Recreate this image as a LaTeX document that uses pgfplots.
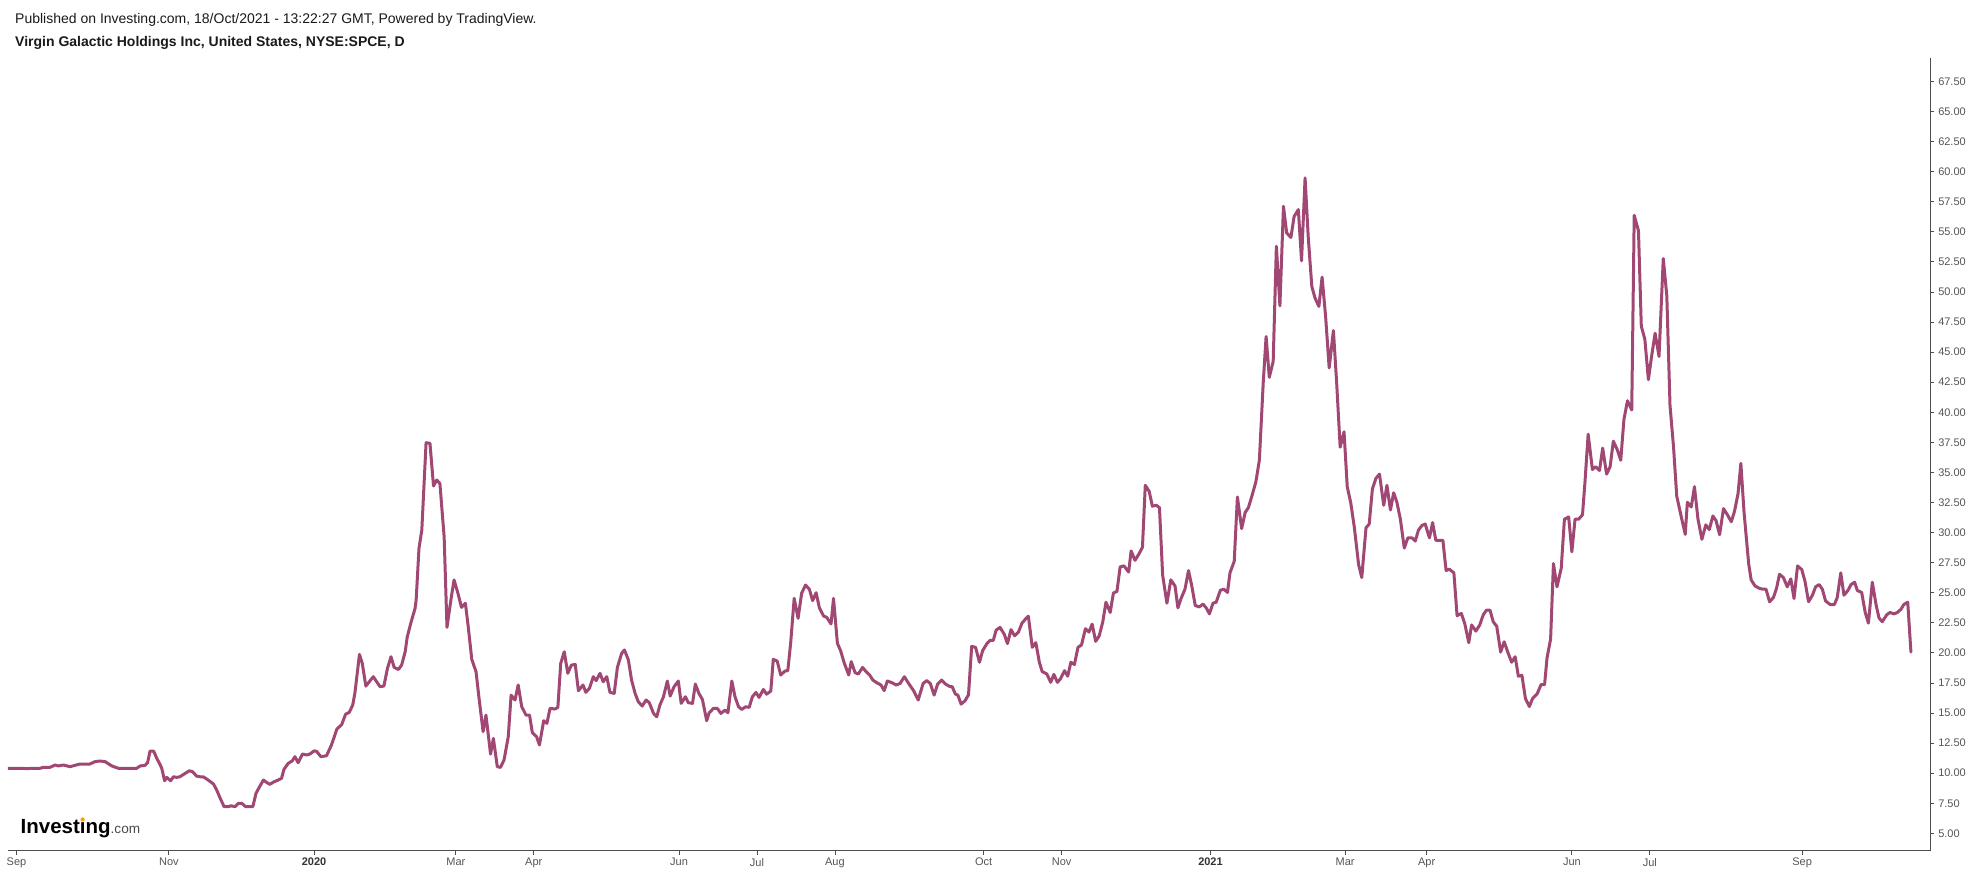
\documentclass[border=0pt]{standalone}
\usepackage{fontspec}
\setmainfont{Liberation Sans}
\usepackage{pgfplots}
\pgfplotsset{compat=1.18}
\definecolor{spce}{HTML}{A04873}
\definecolor{axisgray}{HTML}{4D4D4D}
\definecolor{labelgray}{HTML}{555555}
\definecolor{yeargray}{HTML}{333333}
\definecolor{titleblack}{HTML}{1A1A1A}
\definecolor{comgray}{HTML}{4A4A4A}
\definecolor{logoorange}{HTML}{F7A600}
\begin{document}
\begin{tikzpicture}
\fill[white] (0,0) rectangle (1976bp,875bp);
\path[use as bounding box] (0,0) rectangle (1976bp,875bp);
\node[anchor=base west, inner sep=0pt, text=titleblack] at (15bp,851bp) {\fontsize{14bp}{16bp}\selectfont Published on Investing.com, 18/Oct/2021 - 13:22:27 GMT, Powered by TradingView.};
\node[anchor=base west, inner sep=0pt, text=titleblack] at (15bp,828bp) {\fontsize{14bp}{16bp}\selectfont\bfseries Virgin Galactic Holdings Inc, United States, NYSE:SPCE, D};
\node[anchor=base west, inner sep=0pt] at (20.5bp,41bp) {{\fontsize{20.5bp}{20bp}\selectfont\bfseries Investing}{\fontsize{13.6bp}{14bp}\selectfont\color{comgray}.com}};
\fill[logoorange] (82.6bp,55.5bp) circle (2.2bp);
\begin{axis}[
  at={(8bp,24bp)}, anchor=south west,
  scale only axis, width=1922bp, height=793bp,
  xmin=-2.4, xmax=540.1, ymin=3.53, ymax=69.45,
  axis x line=bottom, axis y line=right,
  axis line style={-, draw=axisgray, line width=1bp},
  tick align=outside, major tick length=4bp,
  tick style={draw=axisgray, line width=0.8bp},
  xtick={0,43,84,124,146,187,209,231,273,295,337,375,398,439,461,504},
  xticklabels={Sep,Nov,\textcolor{yeargray}{\textbf{2020}},Mar,Apr,Jun,Jul,Aug,Oct,Nov,\textcolor{yeargray}{\textbf{2021}},Mar,Apr,Jun,Jul,Sep},
  ytick={5,7.5,10,12.5,15,17.5,20,22.5,25,27.5,30,32.5,35,37.5,40,42.5,45,47.5,50,52.5,55,57.5,60,62.5,65,67.5},
  /pgf/number format/fixed, /pgf/number format/fixed zerofill,
  /pgf/number format/precision=2, /pgf/number format/assume math mode=true,
  xticklabel style={font=\fontsize{11bp}{13bp}\selectfont, text=labelgray, inner sep=0pt, anchor=north, yshift=-3bp},
  yticklabel style={font=\fontsize{11bp}{13bp}\selectfont, text=labelgray, inner sep=0pt, anchor=west, xshift=4bp},
]
\addplot[spce, line width=3bp, line join=round, line cap=round] coordinates {
(-2.3,10.40) (1.9,10.40) (2.9,10.37) (3.8,10.40) (6.6,10.40) (7.6,10.49) (9.5,10.49) (10.9,10.68) (11.8,10.60) (13.2,10.68) (15.1,10.54) (17.9,10.76) (20.7,10.76) (22.2,10.96) (23.6,11.01) (25.0,10.96) (26.9,10.60) (28.8,10.40) (33.9,10.40) (34.9,10.60) (36.3,10.65) (37.0,10.88) (37.7,11.84) (38.7,11.84) (39.6,11.23) (40.5,10.73) (41.0,10.40) (41.8,9.37) (42.4,9.65) (43.5,9.37) (44.3,9.70) (45.2,9.65) (46.1,9.70) (47.6,9.98) (48.8,10.20) (49.7,10.12) (50.8,9.76) (51.8,9.70) (52.7,9.70) (54.1,9.43) (55.6,9.10) (56.5,8.60) (57.5,7.91) (58.6,7.21) (59.8,7.21) (60.5,7.29) (61.7,7.21) (62.6,7.49) (63.6,7.49) (64.7,7.21) (66.7,7.21) (67.6,8.32) (68.5,8.82) (69.7,9.43) (70.6,9.23) (71.5,9.07) (72.7,9.29) (73.9,9.43) (74.8,9.57) (75.5,10.32) (76.7,10.82) (77.8,11.01) (78.6,11.37) (79.5,10.87)
(80.7,11.59) (81.9,11.51) (82.8,11.59) (84.0,11.85) (84.7,11.82) (85.9,11.37) (87.5,11.45) (88.9,12.34) (90.4,13.65) (91.8,14.05) (92.9,14.91) (93.9,15.05) (94.9,15.66) (95.5,16.63) (96.8,19.87) (97.6,19.12) (98.6,17.24) (100.7,18.02) (102.6,17.19) (103.7,17.24) (104.7,18.71) (105.7,19.68) (106.6,18.79) (107.8,18.62) (108.7,18.98) (109.7,20.09) (110.3,21.34) (111.4,22.59) (112.5,23.70) (112.8,24.39) (113.6,28.69) (114.4,30.21) (115.6,37.47) (116.7,37.42) (117.7,33.87) (118.6,34.37) (119.5,34.09) (120.7,29.66) (121.5,22.12) (122.6,24.39) (123.5,26.06) (124.6,24.95) (125.6,23.78) (126.7,24.12) (127.5,22.18) (128.5,19.46) (129.7,18.44) (130.5,16.36) (131.7,13.45) (132.5,14.83) (133.8,11.59) (134.6,12.89) (135.7,10.54) (136.6,10.48) (137.6,11.09) (138.8,13.03) (139.6,16.49) (140.7,16.08) (141.6,17.33) (142.6,15.53) (143.8,14.83) (144.8,14.83) (145.6,13.36) (146.8,13.03) (147.6,12.34) (148.8,14.36) (149.7,14.14) (150.6,15.39) (152.0,15.33) (152.8,15.47) (153.6,19.12) (154.6,20.09) (155.6,18.30) (156.6,18.98) (157.7,19.04) (158.6,16.85) (159.9,17.33) (160.7,16.72) (161.7,17.05) (162.8,18.02) (163.6,17.69) (164.7,18.30) (165.6,17.60) (166.6,18.02) (167.5,16.72) (168.7,16.63) (169.6,18.79) (170.8,19.96)
(171.6,20.24) (172.7,19.41) (173.6,17.74) (174.6,16.63) (175.5,15.94) (176.6,15.58) (177.7,16.08) (178.6,15.86) (179.8,14.97) (180.7,14.69) (181.6,15.66) (182.6,16.35) (183.7,17.66) (184.5,16.41) (185.6,17.19) (186.8,17.66) (187.6,15.80) (188.8,16.35) (189.6,15.86) (190.8,15.80) (191.6,17.41) (192.6,16.63) (193.6,16.13) (194.8,14.36) (195.5,15.02) (196.7,15.38) (197.8,15.38) (198.8,14.97) (200.0,15.24) (200.8,15.02) (201.9,17.66) (202.8,16.35) (203.8,15.52) (204.7,15.30) (205.8,15.52) (206.8,15.47) (207.7,16.35) (208.7,16.71) (209.6,16.30) (210.8,16.96) (211.7,16.57) (212.9,16.82) (213.6,19.46) (214.7,19.32) (215.7,18.16) (216.9,18.49) (217.7,18.52) (218.5,20.79) (219.5,24.53) (220.6,22.87) (221.6,24.95) (222.7,25.64) (223.8,25.28) (224.7,24.34) (225.7,25.00) (226.6,23.76) (227.8,23.06) (228.7,22.95) (229.9,22.40) (230.6,24.53) (231.7,20.79) (232.6,20.18) (233.6,19.18) (234.9,18.16) (235.6,19.27) (236.7,18.35) (237.6,18.24) (238.8,18.79) (239.8,18.44) (240.8,18.16) (241.7,17.74) (242.8,17.52) (244.0,17.33) (244.9,16.86) (245.8,17.66) (247.1,17.52) (248.3,17.33) (249.4,17.46) (250.6,18.02) (251.8,17.46) (253.2,16.86) (254.5,16.08) (255.9,17.46) (256.9,17.69) (257.9,17.46) (259.0,16.49) (260.0,17.41) (261.1,17.74) (262.2,17.41) (263.5,17.19) (264.1,17.19) (265.0,16.57) (265.7,16.49)
(266.6,15.74) (267.7,16.01) (268.7,16.51) (269.6,20.54) (270.7,20.46) (271.8,19.22) (272.7,20.19) (273.9,20.77) (274.8,21.04) (275.7,21.04) (276.5,21.89) (277.6,22.12) (278.8,21.54) (279.7,20.77) (280.7,21.93) (281.7,21.42) (282.8,21.73) (283.8,22.47) (284.7,22.78) (285.6,23.05) (286.7,20.46) (287.7,20.85) (288.7,19.22) (289.5,18.44) (290.8,18.25) (291.9,17.55) (292.8,18.21) (293.8,17.55) (294.7,17.86) (295.8,18.52) (296.7,18.06) (297.6,19.22) (298.6,19.03) (299.6,20.46) (300.6,20.66) (301.7,22.01) (302.7,21.73) (303.6,22.39) (304.6,20.96) (305.6,21.42) (306.6,22.58) (307.5,24.21) (308.7,23.36) (309.6,24.98) (310.6,25.10) (311.5,27.15) (312.6,27.23) (313.9,26.72) (314.6,28.47) (315.7,27.69) (316.9,28.27) (317.8,28.78) (318.6,33.93) (319.7,33.43) (320.6,32.19) (321.7,32.27) (322.6,32.07) (323.5,26.46) (324.7,24.13) (325.8,26.07) (327.0,25.56) (327.8,23.74) (328.7,24.52) (329.8,25.29) (330.8,26.84) (331.7,25.60) (332.7,23.94) (333.8,23.82) (334.9,24.05) (335.8,23.74) (336.7,23.24) (337.7,24.13) (338.6,24.21) (339.8,25.21) (340.8,25.29) (341.8,25.02) (342.5,26.65) (343.7,27.61) (344.6,32.96) (345.8,30.33) (346.8,31.68) (347.7,32.07) (348.8,33.15) (349.8,34.20) (350.8,36.02)
(351.9,42.52) (352.7,46.30) (353.6,42.90) (354.7,44.23) (355.6,53.80) (356.6,48.85) (357.6,57.12) (358.5,54.91) (359.7,54.53) (360.6,56.27) (361.8,56.85) (362.7,52.59) (363.7,59.48) (364.6,54.53) (365.6,50.46) (366.5,49.50) (367.6,48.80) (368.5,51.24) (369.5,47.95) (370.5,43.69) (371.7,46.79) (372.6,42.52) (373.6,37.10) (374.7,38.38) (375.6,33.81) (376.6,32.46) (377.6,30.44) (378.8,27.35) (379.7,26.26) (380.9,30.40) (381.8,30.71) (382.7,33.62) (383.7,34.51) (384.7,34.86) (385.9,32.27) (386.8,33.93) (387.8,31.88) (388.7,33.31) (389.6,32.54) (390.6,31.11) (391.7,28.71) (392.7,29.56) (393.9,29.56) (394.8,29.29) (395.7,30.21) (396.7,30.59) (397.6,30.71) (398.8,29.56) (399.7,30.83) (400.6,29.36) (401.6,29.36) (402.6,29.36) (403.5,26.84) (404.4,26.96) (405.7,26.65) (406.6,23.09) (407.8,23.28) (408.8,22.39) (409.9,20.85) (410.7,22.32) (411.9,21.81) (413.0,22.32) (414.0,23.17) (414.9,23.55) (415.9,23.55) (416.8,22.59) (417.8,22.20) (418.9,20.07) (419.9,20.92) (421.0,19.99) (422.0,19.22) (423.0,19.68) (423.9,18.06) (424.9,18.13) (425.9,16.20) (427.0,15.54) (427.9,16.20) (429.2,16.59) (430.3,17.36) (431.3,17.36) (432.0,19.60) (433.0,21.15) (433.8,27.42) (434.8,25.49) (436.0,27.04) (436.9,31.11) (438.1,31.30) (439.0,28.40) (439.9,31.11) (440.9,31.11)
(442.0,31.48) (442.7,34.19) (443.6,38.18) (444.8,35.24) (445.7,35.47) (446.8,35.16) (447.7,37.02) (448.8,34.86) (449.8,35.47) (450.7,37.60) (451.8,36.90) (452.8,36.01) (453.7,39.41) (454.7,40.96) (455.9,40.19) (456.6,56.37) (457.8,55.09) (458.6,47.15) (459.6,46.07) (460.6,42.71) (461.5,44.64) (462.5,46.57) (463.6,44.64) (464.8,52.78) (465.8,49.68) (466.7,40.58) (467.7,37.10) (468.6,33.03) (469.9,31.28) (471.0,29.85) (471.6,32.52) (472.7,32.13) (473.6,33.81) (474.6,31.11) (475.7,29.44) (476.8,30.64) (477.8,30.25) (478.8,31.38) (479.7,30.99) (480.7,29.82) (481.8,31.99) (482.9,31.48) (484.0,30.90) (484.9,31.76) (485.9,33.23) (486.7,35.75) (487.6,31.68) (488.9,27.42) (489.6,26.07) (490.7,25.56) (491.9,25.37) (492.9,25.29) (493.8,25.29) (494.8,24.25) (495.9,24.60) (496.8,25.41) (497.6,26.53) (498.7,26.26) (499.8,25.49) (500.8,26.15) (501.7,24.52) (502.7,27.23) (503.9,26.92) (504.8,25.95) (505.8,24.25) (506.9,24.79) (507.8,25.49) (508.8,25.68) (509.7,25.29) (510.6,24.32) (511.9,24.02) (513.1,24.02) (513.9,24.60) (514.9,26.65) (515.8,24.79) (516.9,25.18) (517.8,25.68) (518.8,25.87) (519.6,25.18) (520.8,25.02) (521.8,23.36) (522.7,22.47) (523.8,25.87) (524.9,23.94) (525.7,22.90) (526.6,22.59) (527.9,23.17) (528.8,23.36) (529.9,23.24) (530.9,23.36) (531.9,23.63) (532.7,24.02) (533.8,24.21) (534.7,20.07)
};
\end{axis}
\end{tikzpicture}
\end{document}
